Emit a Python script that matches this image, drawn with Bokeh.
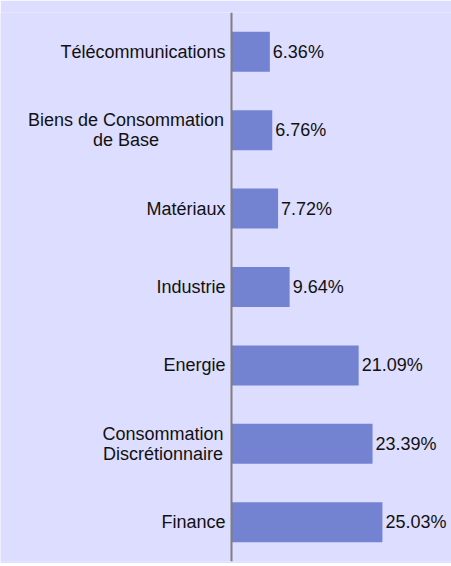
from bokeh.plotting import figure
from bokeh.models import ColumnDataSource, FactorRange, Span
from bokeh.core.properties import value
from bokeh.embed import file_html
from bokeh.resources import INLINE

# Data (top to bottom as shown in the chart)
sectors = ["Télécommunications", "Biens de Consommation\nde Base", "Matériaux",
           "Industrie", "Energie", "Consommation\nDiscrétionnaire", "Finance"]
weights = [6.36, 6.76, 7.72, 9.64, 21.09, 23.39, 25.03]
weight_labels = ["6.36%", "6.76%", "7.72%", "9.64%", "21.09%", "23.39%", "25.03%"]

BG = "#DDDDFF"
BAR = "#7383D2"
FONT = value("Liberation Sans")
FS = value("18px")
TXT = "#111111"

factors = list(reversed(sectors))

PX_PER_UNIT = 6.03
AXIS_X = 231  # pixel position of the zero line inside the figure
W, H = 451, 563
p = figure(width=W, height=H, y_range=FactorRange(factors=factors, range_padding=0),
           x_range=(-AXIS_X / PX_PER_UNIT, (W - AXIS_X) / PX_PER_UNIT),
           output_backend="svg", toolbar_location=None,
           min_border_left=0, min_border_top=12, min_border_bottom=2, min_border_right=0)
p.background_fill_color = BG
p.border_fill_color = BG
p.outline_line_color = None
p.xgrid.visible = False
p.ygrid.visible = False
p.xaxis.visible = False
p.yaxis.visible = False

p.hbar(y="y", right="w", left=0, height=0.51,
       source=ColumnDataSource(dict(y=sectors, w=weights)),
       fill_color=BAR, line_color=None)

p.add_layout(Span(location=0, dimension="height", line_color="#7F7F7F", line_width=2))

p.text(x="w", y="y", text="lab",
       source=ColumnDataSource(dict(y=sectors, w=weights, lab=weight_labels)),
       x_offset=3, text_align="left", text_baseline="middle",
       text_font=FONT, text_font_size=FS, text_color=TXT)

# Category labels drawn as text next to the axis
lab_y, lab_t, lab_xo, lab_yo, lab_al = [], [], [], [], []
block_centre = {"Biens de Consommation\nde Base": -105.5,
                "Consommation\nDiscrétionnaire": -68.5}
for s in sectors:
    lines = s.split("\n")
    n = len(lines)
    for i, ln in enumerate(lines):
        lab_y.append(s)
        lab_t.append(ln)
        if n == 1:
            lab_xo.append(-6)
            lab_al.append("right")
            lab_yo.append(0)
        else:
            lab_xo.append(block_centre[s])
            lab_al.append("center")
            lab_yo.append((i - (n - 1) / 2) * 19.5)

for al in ("right", "center"):
    idx = [k for k in range(len(lab_t)) if lab_al[k] == al]
    p.text(x=0, y="y", text="t", x_offset="xo", y_offset="yo",
           source=ColumnDataSource(dict(y=[lab_y[k] for k in idx],
                                        t=[lab_t[k] for k in idx],
                                        xo=[lab_xo[k] for k in idx],
                                        yo=[lab_yo[k] for k in idx])),
           text_align=al, text_baseline="middle",
           text_font=FONT, text_font_size=FS, text_color=TXT)

open("out.html", "w").write(file_html(p, INLINE))
